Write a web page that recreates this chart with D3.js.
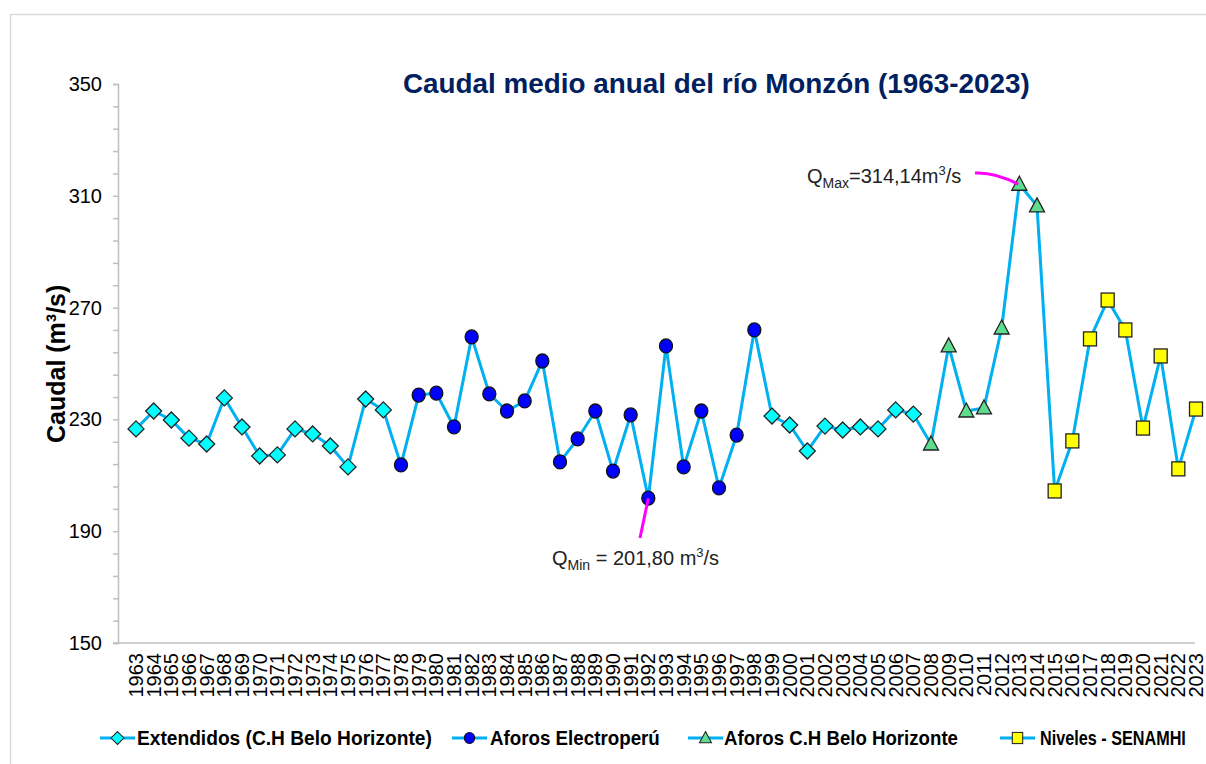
<!DOCTYPE html>
<html>
<head>
<meta charset="utf-8">
<script src="https://cdn.jsdelivr.net/npm/d3@7"></script>
<style>
  body { margin: 0; background: #fff; }
  text { font-family: "Liberation Sans", Arial, sans-serif; }
</style>
</head>
<body>
<div id="chart"></div>
<script>
const years = d3.range(1963, 2024);

const caudal = [
    226.6, 233.0, 229.8, 223.3, 221.2, 237.7, 227.3, 216.9, 217.3, 226.6,
    224.8, 220.5, 213.0, 237.3, 233.4, 213.7, 238.7, 239.4, 227.3, 259.5,
    239.1, 233.0, 236.6, 250.9, 214.8, 223.0, 233.0, 211.5, 231.6, 201.8,
    256.3, 213.0, 233.0, 205.5, 224.4, 262.0, 231.2, 228.0, 218.7, 227.6,
    226.2, 227.3, 226.6, 233.4, 231.9, 221.2, 256.3, 233.0, 234.1, 262.7,
    314.14, 306.4, 204.4, 222.3, 258.8, 272.7, 262.0, 226.9, 252.7, 212.3,
    233.7
];

// serie a la que pertenece cada año
const grupo = [
    'ext', 'ext', 'ext', 'ext', 'ext', 'ext', 'ext', 'ext', 'ext', 'ext',
    'ext', 'ext', 'ext', 'ext', 'ext', 'elec', 'elec', 'elec', 'elec', 'elec',
    'elec', 'elec', 'elec', 'elec', 'elec', 'elec', 'elec', 'elec', 'elec', 'elec',
    'elec', 'elec', 'elec', 'elec', 'elec', 'elec', 'ext', 'ext', 'ext', 'ext',
    'ext', 'ext', 'ext', 'ext', 'ext', 'chbh', 'chbh', 'chbh', 'chbh', 'chbh',
    'chbh', 'chbh', 'sen', 'sen', 'sen', 'sen', 'sen', 'sen', 'sen', 'sen',
    'sen'
];

const seriesKeys = ['ext', 'elec', 'chbh', 'sen'];
const seriesLabels = ['Extendidos (C.H Belo Horizonte)', 'Aforos Electroperú', 'Aforos C.H Belo Horizonte', 'Niveles - SENAMHI'];

const yTicks = [150, 190, 230, 270, 310, 350];

const width = 1206;
const height = 764;

const data = years.map((y, i) => ({ year: y, val: caudal[i], serie: grupo[i] }));

const svg = d3.select('#chart')
    .append('svg')
    .attr('width', width)
    .attr('height', height);

// estrecha un texto horizontalmente hasta el ancho deseado (fuente condensada)
const fitWidth = (sel, target) => {
    const w = sel.node().getComputedTextLength();
    const k = Math.min(1, target / w);
    const x0 = +sel.attr('x') || 0;
    sel.attr('transform', `translate(${x0 * (1 - k)},0) scale(${k},1)`);
};

// marco del gráfico
svg.append('rect')
    .attr('x', 10.5).attr('y', 14.5)
    .attr('width', 1230).attr('height', 800)
    .attr('fill', 'none')
    .attr('stroke', '#d9d9d9')
    .attr('stroke-width', 1.5);

const x = d3.scaleLinear().domain([1963, 2023]).range([136, 1196]);
const y = d3.scaleLinear().domain([150, 350]).range([643, 84]);

// eje Y
const yAxis = svg.append('g')
    .attr('transform', 'translate(118,0)')
    .call(d3.axisLeft(y).tickValues(d3.range(150, 351, 8)).tickSize(5).tickFormat(''));
yAxis.select('.domain').attr('stroke', '#bfbfbf').attr('stroke-width', 1.5);
yAxis.selectAll('.tick line').attr('stroke', '#bfbfbf').attr('stroke-width', 1.5);

svg.append('g')
    .selectAll('text')
    .data(yTicks)
    .join('text')
    .attr('x', 102)
    .attr('y', d => y(d) + 7)
    .attr('text-anchor', 'end')
    .attr('font-size', 20)
    .attr('fill', '#000')
    .text(d => d);

// eje X
svg.append('line')
    .attr('x1', 113).attr('x2', 1195)
    .attr('y1', 643).attr('y2', 643)
    .attr('stroke', '#bfbfbf')
    .attr('stroke-width', 1.5);

svg.append('g')
    .selectAll('text')
    .data(years)
    .join('text')
    .attr('transform', d => `translate(${x(d) + 7},653) rotate(-90)`)
    .attr('text-anchor', 'end')
    .attr('font-size', 20)
    .attr('fill', '#000')
    .text(d => d);

// título eje Y
const yTitle = svg.append('g')
    .attr('transform', 'translate(65,443) rotate(-90)')
    .append('text')
    .attr('x', 0)
    .attr('font-size', 25)
    .attr('font-weight', 'bold')
    .text('Caudal (m³/s)');
fitWidth(yTitle, 175);

// título
const title = svg.append('text')
    .attr('x', 403)
    .attr('y', 93)
    .attr('font-size', 28)
    .attr('font-weight', 'bold')
    .attr('fill', '#002060')
    .text('Caudal medio anual del río Monzón (1963-2023)');
fitWidth(title, 627);

// línea
svg.append('path')
    .datum(data)
    .attr('fill', 'none')
    .attr('stroke', '#00B0F0')
    .attr('stroke-width', 3)
    .attr('d', d3.line().x(d => x(d.year)).y(d => y(d.val)));

// marcadores
const drawMarker = (g, serie) => {
    switch (serie) {
        case 'ext':
            g.append('path')
                .attr('d', 'M0,-8L8,0L0,8L-8,0Z')
                .attr('fill', '#00FFFF')
                .attr('stroke', '#222')
                .attr('stroke-width', 1.3);
            break;
        case 'elec':
            g.append('ellipse')
                .attr('rx', 6.5).attr('ry', 7)
                .attr('fill', '#0000FF')
                .attr('stroke', '#111')
                .attr('stroke-width', 1.3);
            break;
        case 'chbh':
            g.append('path')
                .attr('d', 'M0,-8L7.5,6L-7.5,6Z')
                .attr('fill', '#5EDD8E')
                .attr('stroke', '#222')
                .attr('stroke-width', 1.3);
            break;
        case 'sen':
        default:
            g.append('rect')
                .attr('x', -6.5).attr('y', -7)
                .attr('width', 13).attr('height', 14)
                .attr('fill', '#FFFF00')
                .attr('stroke', '#222')
                .attr('stroke-width', 1.3);
    }
};

svg.append('g')
    .selectAll('g')
    .data(data)
    .join('g')
    .attr('transform', d => `translate(${x(d.year)},${y(d.val)})`)
    .each(function (d) { drawMarker(d3.select(this), d.serie); });

// anotaciones Q max / Q min
const qMax = data.find(d => d.year === 2013);
const qMin = data.find(d => d.year === 1992);

svg.append('path')
    .attr('d', `M975,173 Q995,172 ${x(qMax.year) - 1},${y(qMax.val)}`)
    .attr('fill', 'none')
    .attr('stroke', '#FF00FF')
    .attr('stroke-width', 3);

svg.append('path')
    .attr('d', `M640,538 L${x(qMin.year)},${y(qMin.val)}`)
    .attr('fill', 'none')
    .attr('stroke', '#FF00FF')
    .attr('stroke-width', 3);

const maxLabel = svg.append('text')
    .attr('x', 807).attr('y', 183)
    .attr('font-size', 20)
    .attr('fill', '#222');
maxLabel.append('tspan').text('Q');
maxLabel.append('tspan').attr('font-size', 14).attr('dy', 5).text('Max');
maxLabel.append('tspan').attr('dy', -5).text('=314,14m');
maxLabel.append('tspan').attr('font-size', 13).attr('dy', -8).text('3');
maxLabel.append('tspan').attr('dy', 8).text('/s');

const minLabel = svg.append('text')
    .attr('x', 552).attr('y', 565)
    .attr('font-size', 20)
    .attr('fill', '#222');
minLabel.append('tspan').text('Q');
minLabel.append('tspan').attr('font-size', 14).attr('dy', 5).text('Min');
minLabel.append('tspan').attr('dy', -5).text(' = 201,80 m');
minLabel.append('tspan').attr('font-size', 13).attr('dy', -8).text('3');
minLabel.append('tspan').attr('dy', 8).text('/s');

// leyenda
const legendPos = [
    { line: 100, text: 137, len: 295 },
    { line: 452, text: 490, len: 170 },
    { line: 688, text: 724, len: 234 },
    { line: 1000, text: 1040, len: 146 },
];

const legend = svg.append('g')
    .selectAll('g')
    .data(seriesKeys)
    .join('g')
    .attr('transform', 'translate(0,738)');

legend.append('line')
    .attr('x1', (d, i) => legendPos[i].line)
    .attr('x2', (d, i) => legendPos[i].line + 35)
    .attr('stroke', '#00B0F0')
    .attr('stroke-width', 3);

legend.append('g')
    .attr('transform', (d, i) => `translate(${legendPos[i].line + 17.5},0) scale(0.8)`)
    .each(function (d) { drawMarker(d3.select(this), d); });

legend.append('text')
    .attr('x', (d, i) => legendPos[i].text)
    .attr('y', 7)
    .attr('font-size', 20)
    .attr('font-weight', 'bold')
    .text((d, i) => seriesLabels[i])
    .each(function (d, i) { fitWidth(d3.select(this), legendPos[i].len); });
</script>
</body>
</html>
